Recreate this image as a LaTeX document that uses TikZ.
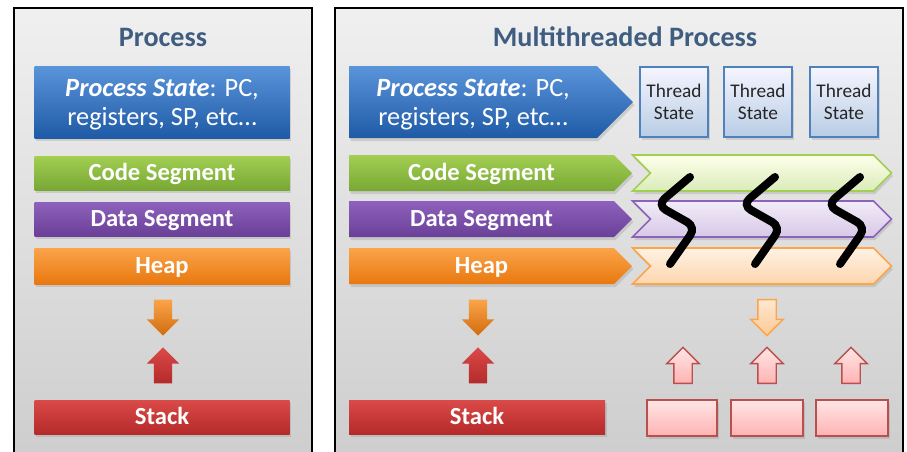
\documentclass[tikz,border=0pt]{standalone}
\usepackage{fontspec}
\setmainfont{Carlito}
\usetikzlibrary{shapes.symbols,shapes.arrows,shadows}
\definecolor{titleblue}{HTML}{3F5D80}
\definecolor{bluetop}{HTML}{5A94DA}
\definecolor{bluebot}{HTML}{1F5AA6}
\definecolor{greentop}{HTML}{A2CE52}
\definecolor{greenbot}{HTML}{78A834}
\definecolor{purptop}{HTML}{8E62BC}
\definecolor{purpbot}{HTML}{6A3F98}
\definecolor{orangetop}{HTML}{FBA44A}
\definecolor{orangebot}{HTML}{E8780E}
\definecolor{redtop}{HTML}{DA4A48}
\definecolor{redbot}{HTML}{B52A2A}
\definecolor{redline}{HTML}{B9504E}
\definecolor{thrline}{HTML}{4F81BD}
\newcommand\segfont{\fontsize{14}{17}\selectfont\bfseries}
\newcommand\psfont{\fontsize{15}{17}\selectfont}
\newcommand\thrfont{\fontsize{11}{12.5}\selectfont}
\tikzset{
  panel/.style={draw=black, line width=1.2pt, top color=gray!12, bottom color=gray!40, inner sep=0},
  ptitle/.style={text=titleblue, font=\fontsize{16}{19}\selectfont\bfseries},
  shd/.style={drop shadow={opacity=0.25, shadow xshift=0.03cm, shadow yshift=-0.06cm}},
  box/.style={shd, inner sep=0, text=white, font=\segfont, align=center,
    text height=8.6pt, text depth=0pt},
  psbox/.style={box, font=\psfont, text height=27.3pt, text depth=0pt},
  segarrow/.style={signal, signal to=east, signal pointer angle=90},
  chevron/.style={shd, signal, signal from=west, signal to=east, signal pointer angle=90,
    inner sep=0, line width=0.9pt},
  blockarrow/.style={single arrow, single arrow head extend=0.14cm, inner sep=0.17cm,
    minimum height=0.72cm, line width=0.8pt},
  thread/.style={shd, draw=thrline, line width=0.9pt, top color=blue!4, bottom color=thrline!40,
    text=black!85, font=\thrfont, align=center, inner sep=0},
  tstack/.style={shd, draw=redline, line width=0.9pt, top color=red!10, bottom color=red!30, inner sep=0},
  squig/.style={line width=0.16cm, line cap=round, rounded corners=0.2cm}
}
\begin{document}
\begin{tikzpicture}[x=0.02cm, y=-0.02cm]
    \def\px{0.02cm}
    \useasboundingbox (0,0) rectangle (907,451);
    \fill[white] (0,0) rectangle (907,451);
    \node[panel, minimum width=298*\px, minimum height=470*\px] (L) at (163,243) {};
    \node[panel, minimum width=568*\px, minimum height=470*\px] (R) at (619,243) {};
    \node[ptitle] (Lt) at (163,37) {Process};
    \node[ptitle] (Rt) at (625,37) {Multithreaded Process};
    \node[psbox, top color=bluetop, bottom color=bluebot, minimum width=255*\px, minimum height=72*\px] (L0) at (162,102)
      {\textbf{\textit{Process State}}: PC,\\registers, SP, etc…};
    \node[box, top color=greentop, bottom color=greenbot, minimum width=255*\px, minimum height=34*\px] (L1) at (162,173) {Code Segment};
    \node[box, top color=purptop, bottom color=purpbot, minimum width=255*\px, minimum height=34*\px] (L2) at (162,219) {Data Segment};
    \node[box, top color=orangetop, bottom color=orangebot, minimum width=255*\px, minimum height=36*\px] (L3) at (162,266) {Heap};
    \node[blockarrow, shape border rotate=270, top color=orangetop, bottom color=orangebot!90!black] (La) at (163,313) {};
    \node[blockarrow, shape border rotate=90, top color=redtop, bottom color=redbot] (Lb) at (163,370) {};
    \node[box, top color=redtop, bottom color=redbot, minimum width=255*\px, minimum height=34*\px] (L4) at (162,417) {Stack};
    \node[psbox, segarrow, top color=bluetop, bottom color=bluebot, minimum width=284*\px, minimum height=72*\px] (R0) at (473,102)
      {\textbf{\textit{Process State}}: PC,\\registers, SP, etc…};
    \node[thread, minimum width=68*\px, minimum height=70*\px] (T1) at (674,102) {Thread\\State};
    \node[thread, minimum width=68*\px, minimum height=70*\px] (T2) at (758,102) {Thread\\State};
    \node[thread, minimum width=68*\px, minimum height=70*\px] (T3) at (844,102) {Thread\\State};
    \node[box, segarrow, top color=greentop, bottom color=greenbot, minimum width=283*\px, minimum height=36*\px] (R1) at (481.5,173) {Code Segment};
    \node[box, segarrow, top color=purptop, bottom color=purpbot, minimum width=283*\px, minimum height=36*\px] (R2) at (481.5,219) {Data Segment};
    \node[box, segarrow, top color=orangetop, bottom color=orangebot, minimum width=283*\px, minimum height=36*\px] (R3) at (481.5,266) {Heap};
    \node[chevron, draw=greentop, top color=green!8!yellow!8, bottom color=greentop!40, minimum width=259*\px, minimum height=36*\px] (C1) at (762,173) {};
    \node[chevron, draw=purptop, top color=purptop!12, bottom color=purptop!35, minimum width=259*\px, minimum height=36*\px] (C2) at (762,219) {};
    \node[chevron, draw=orangetop, top color=orangetop!15, bottom color=orangetop!45, minimum width=259*\px, minimum height=36*\px] (C3) at (762,266) {};
    \draw[squig] (690,177) -- (657,205) -- (696,227) -- (670,264);
    \draw[squig] (775,177) -- (742,205) -- (781,227) -- (755,264);
    \draw[squig] (860,177) -- (827,205) -- (866,227) -- (840,264);
    \node[blockarrow, shape border rotate=270, top color=orangetop, bottom color=orangebot!90!black] (Ra) at (478,313) {};
    \node[blockarrow, shape border rotate=270, draw=orangetop, top color=orangetop!25, bottom color=orangetop!60] (Rb) at (767,313) {};
    \node[blockarrow, shape border rotate=90, top color=redtop, bottom color=redbot] (Rc) at (478,370) {};
    \node[blockarrow, shape border rotate=90, draw=redline, top color=red!10, bottom color=red!30] (U1) at (683,370) {};
    \node[blockarrow, shape border rotate=90, draw=redline, top color=red!10, bottom color=red!30] (U2) at (767,370) {};
    \node[blockarrow, shape border rotate=90, draw=redline, top color=red!10, bottom color=red!30] (U3) at (851,370) {};
    \node[box, top color=redtop, bottom color=redbot, minimum width=256*\px, minimum height=34*\px] (R4) at (477,417) {Stack};
    \node[tstack, minimum width=70*\px, minimum height=36*\px] (S1) at (682,418) {};
    \node[tstack, minimum width=72*\px, minimum height=36*\px] (S2) at (767,418) {};
    \node[tstack, minimum width=72*\px, minimum height=36*\px] (S3) at (852,418) {};
\end{tikzpicture}
\end{document}
